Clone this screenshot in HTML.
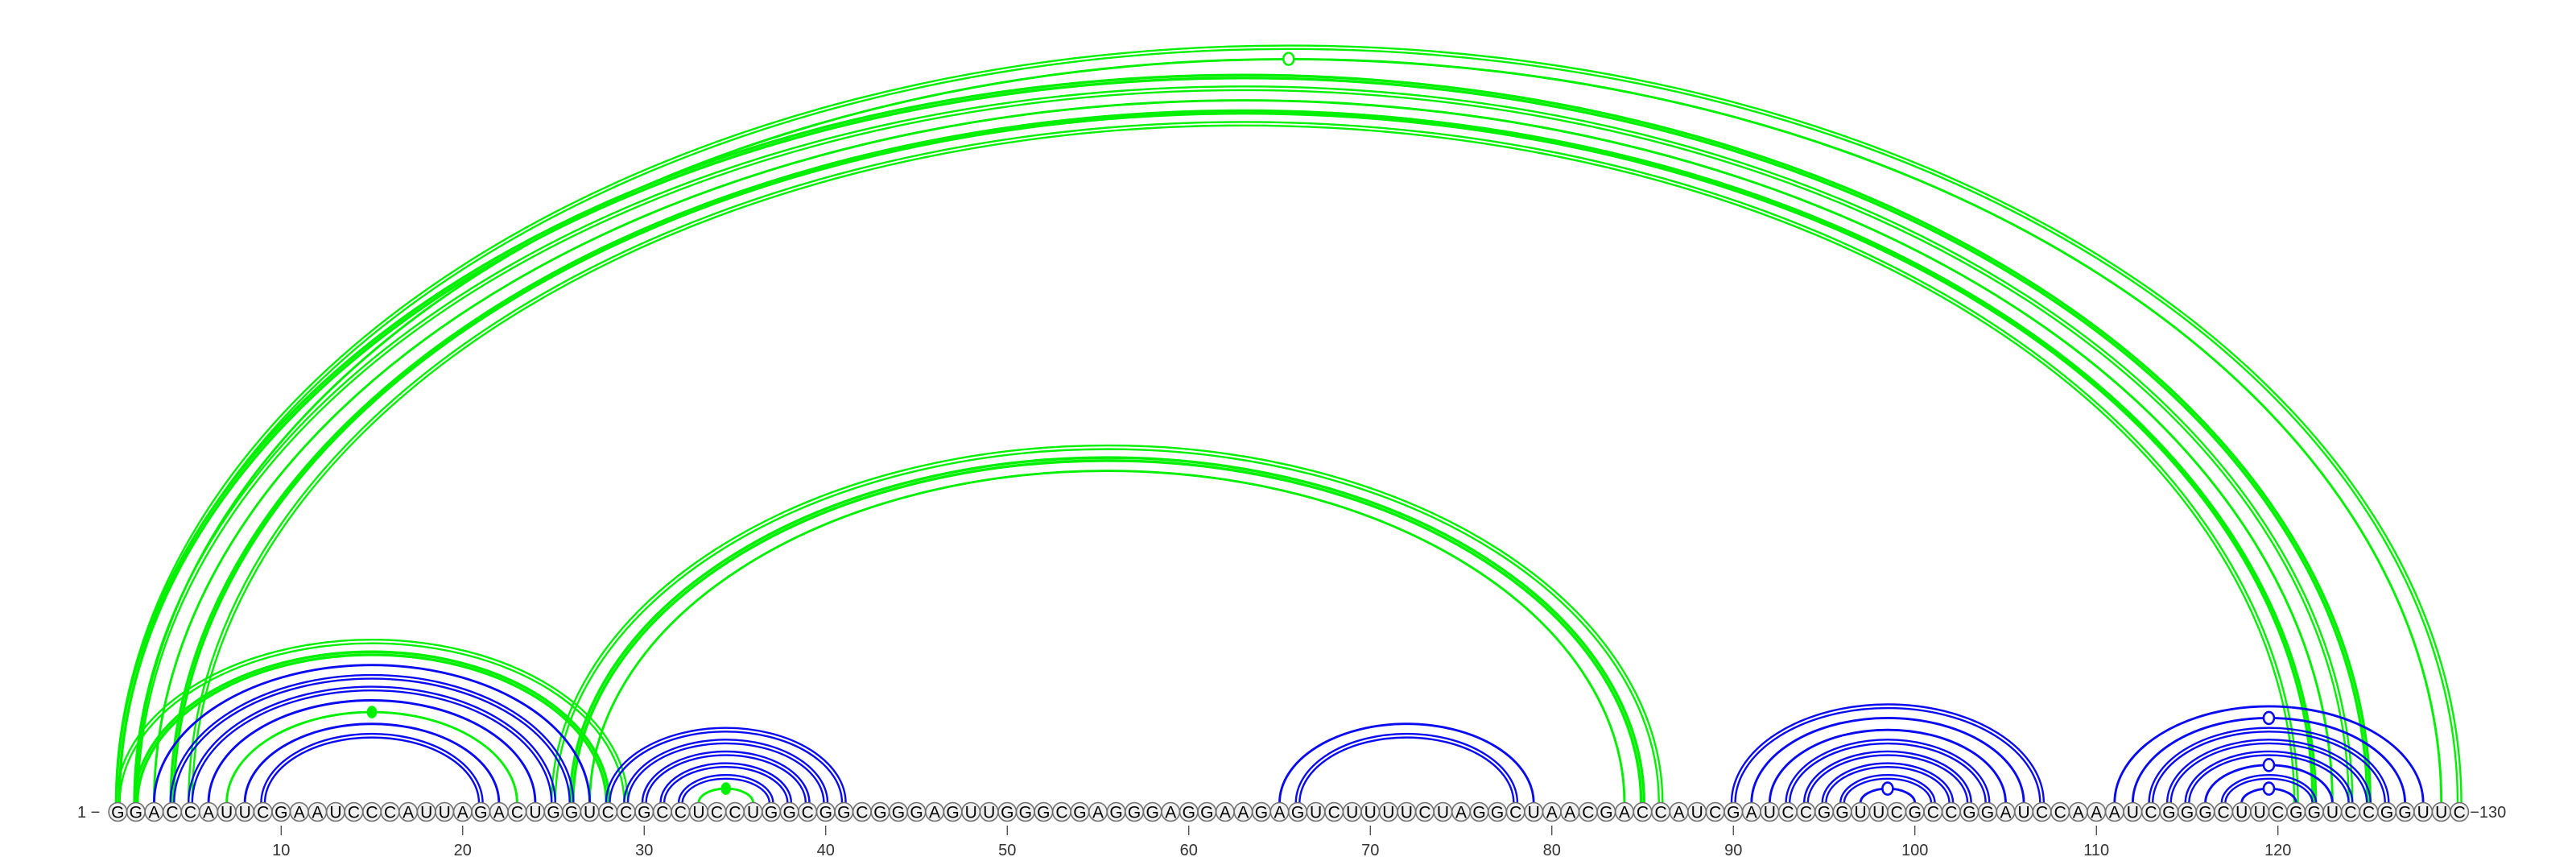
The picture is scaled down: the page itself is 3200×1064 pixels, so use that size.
<!DOCTYPE html>
<html><head><meta charset="utf-8"><style>
html,body{margin:0;padding:0;background:#fff;}
svg{display:block;}
</style></head><body>
<svg id="chart" width="3200" height="1064" viewBox="0 0 3200 1064" xmlns="http://www.w3.org/2000/svg"></svg>
<script>
const sequence = "GGACCAUUCGAAUCCCAUUAGACUGGUCCGCCUCCUGGCGGCGGGAGUUGGGCGAGGGAGGAAGAGUCUUUUCUAGGCUAACGACCAUCGAUCCGGUUCGCCGGAUCCAAAUCGGGCUUCGGUCCGGUUC";
const blueLeft  = [9,8,6,5,4,3, 28,29,30,31,32, 65,66, 90,91,92,93,94,95,96,97, 111,112,113,114,115,116,117,118];
const blueRight = [21,22,24,25,26,27, 41,40,39,38,37, 79,78, 107,106,105,104,103,102,101,100, 128,127,126,125,124,123,122,121];
const blueStyle = ["d","s","s","d","d","s", "d","d","d","d","d", "s","d", "d","s","s","d","d","d","d","s", "s","s","d","d","d","s","d","s"];
const blueMark  = ["","","","","","", "","","","","", "","", "","","","","","","","o", "","o","","","","o","","o"];
const greenLeft  = [7,2,1, 33, 25,26,27, 1,2,1,2,3,4,5];
const greenRight = [23,28,29, 36, 86,85,84, 130,129,125,124,123,122,121];
const greenStyle = ["s","t","d", "s", "d","t","s", "d","s","t","d","s","t","d"];
const greenMark  = ["f","","", "f", "","","", "","o","","","","",""];
const tickValues = [10,20,30,40,50,60,70,80,90,100,110,120];

const svg = document.getElementById('chart');
const NS = "http://www.w3.org/2000/svg";
const X0 = 146.3, DX = 22.55, CY = 1008, Y0 = 997;
function xPos(i){ return X0 + (i-1)*DX; }
function mk(tag, attrs, parent){ const e=document.createElementNS(NS,tag); for(const k in attrs) e.setAttribute(k,attrs[k]); (parent||svg).appendChild(e); return e; }

const arcsG = mk('g',{});



function arcH(hw){ return 0.648*hw-4; }
function arcPath(a,b,off){
  const x1=xPos(a), x2=xPos(b);
  const hw=(x2-x1)/2;
  const rx=hw+off, ry=Math.max(4,arcH(hw)+off);
  return `M ${x1-off} ${Y0} A ${rx} ${ry} 0 0 1 ${x2+off} ${Y0}`;
}
function drawArc(a,b,style,mark,color,name){
  const g=mk('g',{},arcsG);
  
  
  let offs, w;
  if(style==='s'){offs=[0];w=2.9;}
  else if(style==='d'){offs=[-2.3,2.3];w=2.4;}
  else {offs=[-1.8,1.8];w=3.4;}
  offs.forEach(o=>{ mk('path',{d:arcPath(a,b,o),fill:'none',stroke:color,'stroke-width':w},g); });
  if(mark){
    const hw=(xPos(b)-xPos(a))/2;
    const cx=(xPos(a)+xPos(b))/2, cy=Y0-arcH(hw);
    const m=mk('ellipse',{cx:cx,cy:cy,rx:mark==='f'?5:6.5,ry:mark==='f'?6.5:7.5,
      fill:mark==='f'?color:'#fff',stroke:color,'stroke-width':2.6},g);
    
    
  }
}
for(let k=0;k<greenLeft.length;k++) drawArc(greenLeft[k],greenRight[k],greenStyle[k],greenMark[k],'#00f000','green-arc');
for(let k=0;k<blueLeft.length;k++) drawArc(blueLeft[k],blueRight[k],blueStyle[k],blueMark[k],'#0a0af0','blue-arc');

const ntG=mk('g',{});


for(let i=1;i<=sequence.length;i++){
  const g=mk('g',{},ntG);
  
  
  mk('ellipse',{cx:xPos(i),cy:CY,rx:11.2,ry:11.5,fill:'#f0f0f0',stroke:'#707070','stroke-width':1.6},g);
  const t=mk('text',{x:xPos(i),y:CY+7.5,'text-anchor':'middle','font-family':'Liberation Sans, sans-serif','font-size':21,fill:'#000'},g);
  t.textContent=sequence[i-1];
}
const l1=mk('text',{x:96,y:1015,'font-family':'Liberation Sans, sans-serif','font-size':20,fill:'#333'});


l1.textContent='1 \u2212';
const l2=mk('text',{x:xPos(130)+13,y:1015,'font-family':'Liberation Sans, sans-serif','font-size':20,fill:'#333'});


l2.textContent='\u2212130';
const axG=mk('g',{});


tickValues.forEach(v=>{
  const ln=mk('line',{x1:xPos(v),x2:xPos(v),y1:1025,y2:1037,stroke:'#333','stroke-width':1.2},axG);
  
  
  const t=mk('text',{x:xPos(v),y:1062,'text-anchor':'middle','font-family':'Liberation Sans, sans-serif','font-size':20,fill:'#333'},axG);
  
  
  t.textContent=v;
});
</script>
</body></html>
